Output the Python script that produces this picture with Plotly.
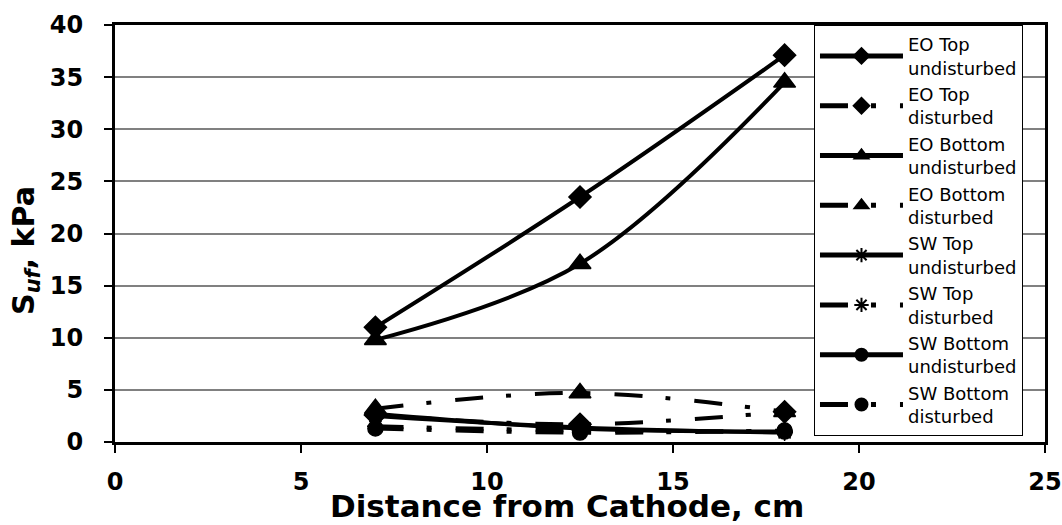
import plotly.graph_objects as go

# ---- data ----
x_cm = [7, 12.5, 18]

eo_top_undist = [11.0, 23.5, 37.1]
eo_top_dist = [2.6, 1.7, 2.9]
eo_bot_undist = [9.8, 17.1, 34.5]
eo_bot_dist = [3.2, 4.7, 2.9]
sw_top_undist = [2.5, 1.4, 0.9]
sw_top_dist = [1.5, 1.1, 1.0]
sw_bot_undist = [2.7, 1.3, 1.0]
sw_bot_dist = [1.3, 0.9, 1.1]

series_names = [
    "EO Top<br>undisturbed", "EO Top<br>disturbed",
    "EO Bottom<br>undisturbed", "EO Bottom<br>disturbed",
    "SW Top<br>undisturbed", "SW Top<br>disturbed",
    "SW Bottom<br>undisturbed", "SW Bottom<br>disturbed",
]
series_values = [eo_top_undist, eo_top_dist, eo_bot_undist, eo_bot_dist,
                 sw_top_undist, sw_top_dist, sw_bot_undist, sw_bot_dist]

x_ticks = [0, 5, 10, 15, 20, 25]
y_ticks = [0, 5, 10, 15, 20, 25, 30, 35, 40]

# ---- styles ----
FONT = "DejaVu Sans"
DASH = "28px,23px,5px,24px"
symbols = ["diamond", "diamond", "triangle-up", "triangle-up",
           "asterisk-open", "asterisk-open", "circle", "circle"]
sizes = [17, 17, 19, 19, 14, 14, 15, 15]
dashes = ["solid", DASH] * 4

fig = go.Figure()
for name, vals, sym, sz, dsh in zip(series_names, series_values, symbols, sizes, dashes):
    fig.add_trace(go.Scatter(
        x=x_cm, y=vals, name=name, mode="lines+markers",
        line=dict(color="black", width=4, dash=dsh, shape="spline", smoothing=1.0),
        marker=dict(symbol=sym, size=sz, color="black",
                    line=dict(color="black", width=1.5)),
    ))

fig.update_layout(
    width=1062, height=525,
    margin=dict(l=115, r=17, t=25, b=83, autoexpand=False),
    paper_bgcolor="white", plot_bgcolor="white",
    font=dict(family=FONT, color="black"),
    hovermode=False,
    legend=dict(
        x=0.7516, xanchor="left", y=1, yanchor="top",
        bgcolor="white", bordercolor="black", borderwidth=1,
        font=dict(family=FONT, size=18, color="black"),
        itemsizing="constant", itemwidth=83, traceorder="normal",
    ),
    xaxis=dict(
        range=[0, 25], tickvals=x_ticks, ticks="outside", ticklen=8, tickwidth=2,
        tickcolor="black", showline=True, linewidth=3, linecolor="black", mirror=True,
        showgrid=False, zeroline=False, automargin=False,
        tickfont=dict(family=FONT, size=24, weight="bold"),
        ticklabelstandoff=8,
    ),
    yaxis=dict(
        range=[0, 40], tickvals=y_ticks, ticks="outside", ticklen=8, tickwidth=2,
        tickcolor="black", showline=True, linewidth=3, linecolor="black", mirror=True,
        showgrid=True, gridcolor="#808080", gridwidth=1.5, zeroline=False,
        automargin=False,
        tickfont=dict(family=FONT, size=24, weight="bold"), ticklabelstandoff=16,
    ),
    annotations=[
        dict(text="<b>Distance from Cathode, cm</b>", xref="paper", yref="paper",
             x=0.486, y=-0.1542, xanchor="center", yanchor="middle", showarrow=False,
             font=dict(family=FONT, size=31, color="black")),
        dict(text="<b>S<sub><i>uf</i></sub>, kPa</b>", xref="paper", yref="paper",
             x=-0.097, y=0.46, xanchor="center", yanchor="middle", showarrow=False,
             textangle=-90, font=dict(family=FONT, size=30, color="black")),
    ],
)

fig.write_html(
    "out.html",
    config={"displayModeBar": False},
    post_script="document.body.style.margin='0';document.body.style.overflow='hidden';",
)
